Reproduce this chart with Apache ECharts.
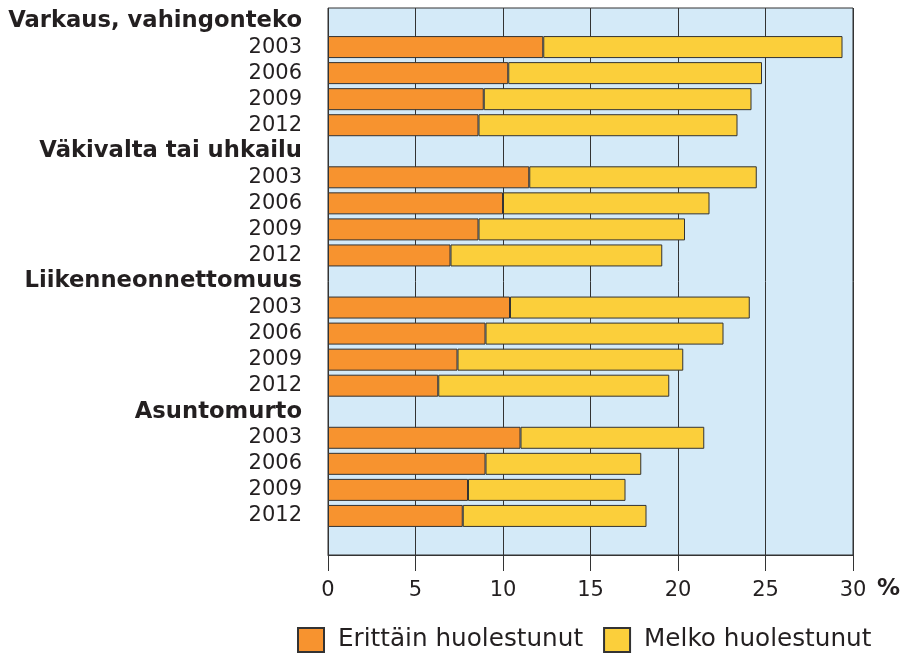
<!DOCTYPE html>
<html>
<head>
<meta charset="utf-8">
<script src="https://cdn.jsdelivr.net/npm/echarts@6/dist/echarts.min.js"></script>
<style>
  html, body { margin: 0; padding: 0; background: #fff; }
  #main { width: 904px; height: 654px; }
</style>
</head>
<body>
<div id="main"></div>
<script>
// ryhmät ja vuodet
const groups = ["Varkaus, vahingonteko", "Väkivalta tai uhkailu", "Liikenneonnettomuus", "Asuntomurto"];
const years = ["2003", "2006", "2009", "2012"];
// Erittäin huolestunut (%)
const veryWorried = [
  [12.3, 10.3, 8.9, 8.6],
  [11.5, 10.0, 8.6, 7.0],
  [10.4, 9.0, 7.4, 6.3],
  [11.0, 9.0, 8.0, 7.7],
];
// Melko huolestunut (%)
const fairlyWorried = [
  [17.1, 14.5, 15.3, 14.8],
  [13.0, 11.8, 11.8, 12.1],
  [13.7, 13.6, 12.9, 13.2],
  [10.5, 8.9, 9.0, 10.5],
];
const xTicks = [0, 5, 10, 15, 20, 25, 30];

// rivit: otsikko + vuodet, lopuksi tyhjä rivi
let rowLabels = [];
let rowIsHeader = [];
let s1 = [];
let s2 = [];
groups.forEach((g, gi) => {
  rowLabels.push(g);
  rowIsHeader.push(true);
  s1.push("-");
  s2.push("-");
  years.forEach((y, yi) => {
    rowLabels.push(y);
    rowIsHeader.push(false);
    s1.push(veryWorried[gi][yi]);
    s2.push(fairlyWorried[gi][yi]);
  });
});
rowLabels.push("");
rowIsHeader.push(false);
s1.push("-");
s2.push("-");

const font = "DejaVu Sans";
const ink = "#231f20";

const chart = echarts.init(document.getElementById("main"));
const option = {
  animation: false,
  textStyle: { fontFamily: font },
  grid: {
    left: 328,
    right: 51,
    top: 8,
    bottom: 99,
    show: true,
    backgroundColor: "#d4eaf8",
    borderColor: "#333",
    borderWidth: 1,
  },
  legend: {
    left: 297,
    top: 627,
    padding: 0,
    icon: "rect",
    itemWidth: 26,
    itemHeight: 24,
    itemGap: 20,
    textStyle: {
      fontFamily: font,
      fontSize: 24.7,
      color: ink,
      padding: [3, 0, 0, 9],
    },
    data: ["Erittäin huolestunut", "Melko huolestunut"],
  },
  xAxis: {
    type: "value",
    min: 0,
    max: 30,
    interval: 5,
    axisLine: { show: true, lineStyle: { color: "#333", width: 1 } },
    axisTick: { show: true, length: 16, lineStyle: { color: "#333" } },
    splitLine: { show: true, lineStyle: { color: "#333", width: 1 } },
    axisLabel: {
      margin: 25,
      fontSize: 21,
      color: ink,
      fontFamily: font,
      formatter: (v) => (xTicks.indexOf(v) > -1 ? String(v) : ""),
    },
    name: "%",
    nameLocation: "end",
    nameGap: 24,
    nameTextStyle: {
      fontFamily: font,
      fontSize: 23,
      fontWeight: "bold",
      color: ink,
      verticalAlign: "top",
      padding: [23, 0, 0, 0],
    },
  },
  yAxis: {
    type: "category",
    inverse: true,
    data: rowLabels.map((l, i) => "r" + i),
    axisLine: { show: false },
    axisTick: { show: false },
    splitLine: { show: false },
    axisLabel: {
      margin: 26,
      interval: 0,
      fontSize: 21,
      color: ink,
      fontFamily: font,
      formatter: (v, i) => (rowIsHeader[i] ? "{h|" + rowLabels[i] + "}" : rowLabels[i]),
      rich: {
        h: { fontWeight: "bold", fontSize: 22.7, color: ink, fontFamily: font },
      },
    },
  },
  series: [
    {
      name: "Erittäin huolestunut",
      type: "bar",
      stack: "total",
      barWidth: 22,
      data: s1,
      itemStyle: { color: "#f7932f", borderColor: "#333", borderWidth: 1 },
    },
    {
      name: "Melko huolestunut",
      type: "bar",
      stack: "total",
      barWidth: 22,
      data: s2,
      itemStyle: { color: "#fbcf3b", borderColor: "#333", borderWidth: 1 },
    },
  ],
};
chart.setOption(option);
</script>
</body>
</html>
